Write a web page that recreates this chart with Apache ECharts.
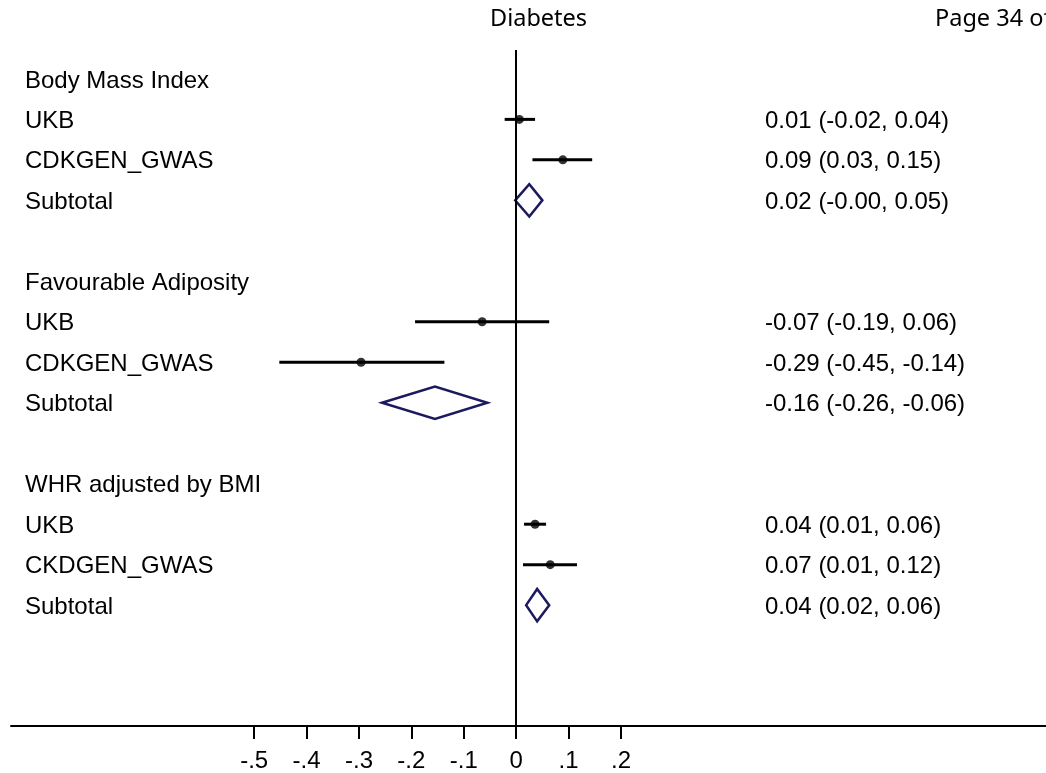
<!DOCTYPE html>
<html>
<head>
<meta charset="utf-8">
<script src="https://cdn.jsdelivr.net/npm/echarts@6/dist/echarts.min.js"></script>
<style>
  html, body { margin: 0; padding: 0; background: #fff; }
  #chart { width: 1046px; height: 773px; }
</style>
</head>
<body>
<div id="chart"></div>
<script>
// Forest plot: rows top to bottom, estimates with 95% CI.
const rowLabels = [
  'Body Mass Index', 'UKB', 'CDKGEN_GWAS', 'Subtotal', '',
  'Favourable Adiposity', 'UKB', 'CDKGEN_GWAS', 'Subtotal', '',
  'WHR adjusted by BMI', 'UKB', 'CKDGEN_GWAS', 'Subtotal'
];
const estimate = [null, 0.006, 0.089, 0.025, null, null, -0.065, -0.296, -0.155, null, null, 0.036, 0.065, 0.040];
const lower    = [null, -0.022, 0.031, -0.002, null, null, -0.193, -0.452, -0.256, null, null, 0.015, 0.013, 0.019];
const upper    = [null, 0.036, 0.145, 0.050, null, null, 0.063, -0.137, -0.055, null, null, 0.057, 0.116, 0.063];
const ciText = [
  '', '0.01 (-0.02, 0.04)', '0.09 (0.03, 0.15)', '0.02 (-0.00, 0.05)', '',
  '', '-0.07 (-0.19, 0.06)', '-0.29 (-0.45, -0.14)', '-0.16 (-0.26, -0.06)', '',
  '', '0.04 (0.01, 0.06)', '0.07 (0.01, 0.12)', '0.04 (0.02, 0.06)'
];
const tickValues = [-0.5, -0.4, -0.3, -0.2, -0.1, 0, 0.1, 0.2];

const studyData = [], subtotalData = [], pointData = [], textData = [];
rowLabels.forEach((lab, i) => {
  textData.push([0, i]);
  if (estimate[i] == null) return;
  if (lab === 'Subtotal') subtotalData.push([i, estimate[i], lower[i], upper[i]]);
  else {
    studyData.push([i, estimate[i], lower[i], upper[i]]);
    pointData.push([estimate[i], i]);
  }
});

const textFont = '24px "Liberation Sans", Arial, sans-serif';
const headFont = '23.5px "Noto Sans", "Open Sans", sans-serif';

const chart = echarts.init(document.getElementById('chart'), null, { renderer: 'canvas' });
chart.setOption({
  animation: false,
  backgroundColor: '#fff',
  grid: { left: 11, right: 0, top: 50, bottom: 45 },
  xAxis: {
    type: 'value', min: -0.964, max: 1.011,
    splitLine: { show: false },
    axisLine: { show: true, onZero: false, lineStyle: { color: '#000', width: 2 } },
    axisTick: { show: true, customValues: tickValues, length: 13, lineStyle: { color: '#000', width: 2 } },
    axisLabel: {
      customValues: tickValues, margin: 23,
      color: '#000', fontSize: 24, fontFamily: '"Liberation Sans", Arial, sans-serif',
      formatter: v => {
        const r = Math.round(v * 10) / 10;
        if (r === 0) return '0';
        return (r < 0 ? '-' : '') + String(Math.abs(r)).replace(/^0/, '');
      }
    }
  },
  yAxis: { type: 'value', inverse: true, min: -0.714, max: 15.985, show: false },
  graphic: [
    { type: 'text', left: 490, top: 7, style: { text: 'Diabetes', font: headFont, fill: '#000' } },
    { type: 'text', left: 935, top: 7, style: { text: 'Page 34 of', font: headFont, fill: '#000' } }
  ],
  series: [
    {
      type: 'line', data: [], silent: true,
      markLine: {
        symbol: 'none', silent: true, label: { show: false },
        lineStyle: { color: '#000', width: 2, type: 'solid' },
        data: [{ xAxis: 0 }]
      }
    },
    {
      type: 'custom', data: studyData, silent: true,
      renderItem: (params, api) => {
        const row = api.value(0);
        const a = api.coord([api.value(2), row]);
        const b = api.coord([api.value(3), row]);
        return {
          type: 'line',
          shape: { x1: a[0], y1: a[1], x2: b[0], y2: b[1] },
          style: { stroke: '#000', lineWidth: 3 }
        };
      }
    },
    {
      type: 'scatter', data: pointData, symbol: 'circle', symbolSize: 9, silent: true,
      itemStyle: { color: '#000' }
    },
    {
      type: 'custom', data: subtotalData, silent: true,
      renderItem: (params, api) => {
        const row = api.value(0), est = api.value(1);
        const pts = [
          api.coord([api.value(2), row]),
          api.coord([est, row - 0.4]),
          api.coord([api.value(3), row]),
          api.coord([est, row + 0.4])
        ];
        return {
          type: 'polygon',
          shape: { points: pts },
          style: { fill: 'none', stroke: '#1c1a5e', lineWidth: 2.5 }
        };
      }
    },
    {
      type: 'custom', data: textData, silent: true, clip: false,
      renderItem: (params, api) => {
        const i = params.dataIndex;
        const y = api.coord([0, api.value(1)])[1] + 2;
        return {
          type: 'group',
          children: [
            { type: 'text', x: 25, y: y, style: { text: rowLabels[i], font: textFont, fill: '#000', verticalAlign: 'middle' } },
            { type: 'text', x: 765, y: y, style: { text: ciText[i], font: textFont, fill: '#000', verticalAlign: 'middle' } }
          ]
        };
      }
    }
  ]
});
</script>
</body>
</html>
